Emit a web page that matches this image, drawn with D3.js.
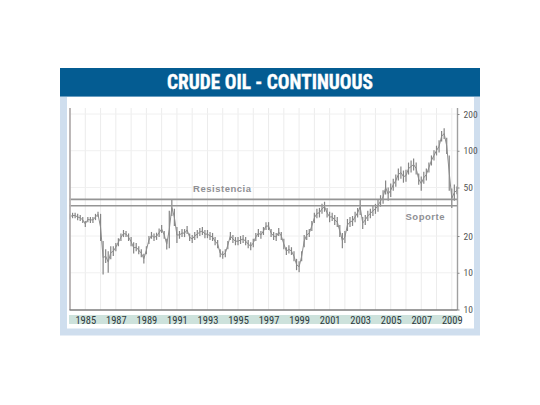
<!DOCTYPE html>
<html><head><meta charset="utf-8">
<script src="https://d3js.org/d3.v7.min.js"></script>
<style>html,body{margin:0;padding:0;background:#fff;overflow:hidden}svg{display:block}</style>
</head><body><svg id="c" width="540" height="405"></svg>
<script>
const title = "CRUDE OIL - CONTINUOUS";
const yearTicks = [1985,1987,1989,1991,1993,1995,1997,1999,2001,2003,2005,2007,2009];
const gridYears = [1985,1986,1987,1988,1989,1990,1991,1992,1993,1994,1995,1996,1997,1998,1999,2000,2001,2002,2003,2004,2005,2006,2007,2008,2009];
const priceTicks = [200,100,50,20,10,5];
const priceLabels = ["200","100","50","20","10","10"];
const resistance = 39.9, support = 35.4;
const firstYear = 1984, barsPerYear = 6;
const highs = [
30.4,31,31,30.4,29.8,28.7,
26.6,28.7,28.7,28.7,30.4,31.6,
30.4,18.2,15.6,15,16.5,16.5,
17.5,19.2,21,22.4,22,21,
19.6,17.8,17.5,16.5,15.6,14.3,
16.5,20,21.6,21,21.3,23.1,
24.6,22,19,32.2,40.2,33.4,
23.7,22,22.8,22.8,24.2,21,
20.4,21.6,22.4,23.3,23.7,22.4,
22.4,21.6,21.2,19.6,18.6,15.6,
15,15.6,18.2,21.6,20.4,19.6,
19.6,20,20.4,19.6,18.6,17.8,
19,21.2,22.8,22,23.7,26,
26,22.8,21.6,21.2,23.3,21.6,
19,16.2,16.8,16.2,15,13,
12.4,15,20.4,22.4,22.8,26.6,
31,33.4,34,36.7,38.2,34,
31.6,31,29.8,28.7,24.6,21.2,
22,27.6,28.7,29.2,31.6,34,
40.2,28.7,29.8,32.2,33.4,35.4,
36.7,39.6,43.2,47.5,56.9,50,
54,59,63.8,71.6,74.4,68.8,
70,80,83.2,86.4,80,65,
61.4,67.4,71.6,80,91.5,100.7,
110,122,145,153,128,91.5,
49,53,51];
const lows = [
27.4,28,28,27,26.6,25.6,
23.7,26,25.6,25.6,27,28.7,
18.2,9.7,12,10,12.9,13.7,
15,16.5,18.2,19.6,19.6,18.2,
16.5,14.4,15,14.2,13.4,11.9,
14.2,17.2,19,18.2,18.6,19.6,
21.2,19,15.5,15.9,29.2,24.2,
17.5,19,19.6,19.6,20.8,18.2,
17.5,18.6,19.2,20,20.4,19.2,
19.2,18.6,18.2,16.8,15.9,13.4,
13,13.4,15.6,18.6,17.5,16.8,
16.8,17.2,17.5,16.8,15.9,15.3,
16.2,18.2,19.6,19,20.4,22.4,
22.4,19.6,18.6,18.2,20,18.6,
15.6,14,14.4,14,12.4,10.5,
10.1,12.4,16.2,18.6,19.6,22,
25.6,28,28.4,30.4,31.6,28.4,
26,26.6,24.6,23.7,19.6,15.9,
17.5,22,23.7,24.2,26,28.4,
29.8,22.8,24.6,26.6,28,29.2,
30.4,31.6,34.8,36.7,43.8,38.9,
41.8,47,50.8,56.9,59,54.7,
55.8,63.8,66.2,68.8,63.8,52.7,
47,53.6,56.9,66.2,75.7,83.2,
91.5,96.8,119,125,94,47,
34,38.9,44];

const L = 69.5, R = 457.5, T = 108, B = 310;
const x = d3.scaleLinear().domain([1985,2009]).range([85.3,451.8]);
const y = d3.scaleLog().domain([200,5]).range([114,309.5]);
const svg = d3.select("#c");
const narrow = "'Liberation Sans Narrow','Roboto Condensed','Liberation Sans',Arial,sans-serif";

svg.append("defs").append("filter").attr("id","soft")
  .attr("x","-5%").attr("y","-5%").attr("width","110%").attr("height","110%")
  .append("feGaussianBlur").attr("stdDeviation",0.3);

// frame
svg.append("rect").attr("x",60).attr("y",96).attr("width",420).attr("height",239.5).attr("fill","#cfdeee");
svg.append("rect").attr("x",67).attr("y",97).attr("width",407).attr("height",231.5).attr("fill","#fff");
svg.append("rect").attr("x",60).attr("y",68).attr("width",420).attr("height",28.5).attr("fill","#045c92");
svg.append("text").attr("x",270).attr("y",89).attr("text-anchor","middle")
  .attr("font-family",narrow).attr("font-weight","700").attr("font-size",21)
  .attr("textLength",206).attr("lengthAdjust","spacingAndGlyphs")
  .attr("fill","#fff").attr("stroke","#fff").attr("stroke-width",0.4).text(title);
svg.append("rect").attr("x",69).attr("y",315).attr("width",391).attr("height",9).attr("fill","#cde2dc");

const plot = svg.append("g").attr("filter","url(#soft)");
// grid
plot.append("g").selectAll("line").data(gridYears).join("line")
  .attr("x1",d=>x(d)).attr("x2",d=>x(d)).attr("y1",T).attr("y2",B)
  .attr("stroke","#ececec").attr("stroke-width",1);
plot.append("g").selectAll("line").data(priceTicks.slice(0,5)).join("line")
  .attr("x1",L).attr("x2",R).attr("y1",d=>y(d)).attr("y2",d=>y(d))
  .attr("stroke","#f0f0f0").attr("stroke-width",1);

// price bars
plot.append("g").selectAll("line").data(highs).join("line")
  .attr("x1",(d,i)=>x(firstYear+i/barsPerYear)).attr("x2",(d,i)=>x(firstYear+i/barsPerYear))
  .attr("y1",d=>y(d)).attr("y2",(d,i)=>y(lows[i]))
  .attr("stroke","#858585").attr("stroke-width",1.2);
// connecting trace
plot.append("path").attr("fill","none").attr("stroke","#8c8c8c").attr("stroke-width",1)
  .attr("d",d3.line().x((d,i)=>x(firstYear+i/barsPerYear)).y((d,i)=>y(Math.sqrt(d*lows[i])))(highs));

// levels
[resistance,support].forEach(v=>{
  plot.append("line").attr("x1",L).attr("x2",R).attr("y1",y(v)).attr("y2",y(v))
    .attr("stroke","#959595").attr("stroke-width",1.7);
});

// axes frame
plot.append("line").attr("x1",L+0.5).attr("x2",L+0.5).attr("y1",T).attr("y2",B).attr("stroke","#b5b0b0").attr("stroke-width",1.8);
plot.append("line").attr("x1",R).attr("x2",R).attr("y1",T).attr("y2",B).attr("stroke","#a0a0a0").attr("stroke-width",1.4);
plot.append("line").attr("x1",L).attr("x2",R).attr("y1",B).attr("y2",B).attr("stroke","#7c7c7c").attr("stroke-width",1.5);

// year axis
const ax = svg.append("g").attr("transform","translate(0,323.5)")
  .call(d3.axisBottom(x).tickValues(yearTicks).tickFormat(d3.format("d")).tickSize(0).tickPadding(0));
ax.select(".domain").remove();
ax.selectAll("text").attr("y",0).attr("dy",0).attr("font-family",narrow).attr("font-size",10.5)
  .attr("font-weight","400").attr("fill","#2f3a3c");

// price axis
const ay = svg.append("g").attr("transform",`translate(${R},0)`)
  .call(d3.axisRight(y).tickValues(priceTicks).tickFormat((d,i)=>priceLabels[i]).tickSize(2).tickPadding(4));
ay.select(".domain").remove();
ay.selectAll("line").attr("stroke","#888");
ay.selectAll("text").attr("font-family",narrow).attr("font-size",9.5).attr("fill","#555");

// annotations
const note = (t,cx,cy,w)=>svg.append("text").attr("x",cx).attr("y",cy).attr("text-anchor","middle")
  .attr("font-family","'Liberation Sans',Arial,sans-serif").attr("font-weight","700").attr("font-size",9.5)
  .attr("textLength",w).attr("fill","#8f8f94").text(t);
note("Resistencia",222,192,58);
note("Soporte",425,220,39);
</script></body></html>
